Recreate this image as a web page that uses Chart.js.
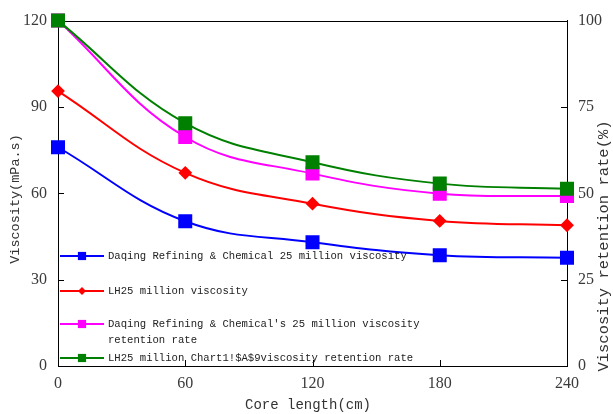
<!DOCTYPE html>
<html>
<head>
<meta charset="utf-8">
<script src="https://cdn.jsdelivr.net/npm/chart.js@4.4.0/dist/chart.umd.min.js"></script>
<style>
  html, body { margin: 0; padding: 0; background: #fff; }
</style>
</head>
<body>
<canvas id="chart" width="613" height="414"></canvas>
<script>
// data
var coreLength = [0, 60, 120, 180, 240];
var daqingVisc = [76, 50.3, 43, 38.5, 37.6];
var lhVisc = [95.5, 67.1, 56.4, 50.4, 48.9];
var daqingRetention = [100, 66.3, 55.7, 49.9, 49.2];
var lhRetention = [100, 70.3, 59, 52.8, 51.3];

var seriesNames = [
  ['Daqing Refining & Chemical 25 million viscosity'],
  ['LH25 million viscosity'],
  ["Daqing Refining & Chemical's 25 million viscosity", 'retention rate'],
  ['LH25 million Chart1!$A$9viscosity retention rate']
];
var xTitle = 'Core length(cm)';
var yTitle = 'Viscosity(mPa.s)';
var y1Title = 'Viscosity retention rate(%)';

var tickFont = { family: 'Liberation Serif', size: 16 };
var monoFont = 'Liberation Mono';

function pts(vals) {
  return vals.map(function (v, i) { return { x: coreLength[i], y: v }; });
}

function series(label, vals, color, style, radius, axis, order) {
  return {
    label: label,
    data: pts(vals),
    yAxisID: axis,
    order: order,
    borderColor: color,
    backgroundColor: color,
    borderWidth: 2,
    pointStyle: style,
    pointRadius: radius,
    pointHoverRadius: radius,
    tension: 0.4,
    clip: false
  };
}

var legendRows = [
  { y: 256, color: '#0000ff', style: 'rect', r: 5.8 },
  { y: 291, color: '#ff0000', style: 'rectRot', r: 4 },
  { y: 324, color: '#ff00ff', style: 'rect', r: 5.8 },
  { y: 358, color: '#008000', style: 'rect', r: 5.8 }
];

var framePlugin = {
  id: 'frame',
  beforeDatasetsDraw: function (chart) {
    var ctx = chart.ctx, a = chart.chartArea;
    var sx = chart.scales.x, sy = chart.scales.y, sy1 = chart.scales.y1;
    ctx.save();
    ctx.strokeStyle = '#000';
    ctx.lineWidth = 1;
    ctx.beginPath();
    ctx.moveTo(a.left, Math.round(a.top) + 0.5);
    ctx.lineTo(a.right, Math.round(a.top) + 0.5);
    // inward tick marks
    [30, 60, 90].forEach(function (v) {
      var p = Math.round(sy.getPixelForValue(v)) + 0.5;
      ctx.moveTo(a.left, p); ctx.lineTo(a.left + 6, p);
    });
    [25, 50, 75].forEach(function (v) {
      var p = Math.round(sy1.getPixelForValue(v)) + 0.5;
      ctx.moveTo(a.right, p); ctx.lineTo(a.right - 6, p);
    });
    [60, 120, 180].forEach(function (v) {
      var p = Math.round(sx.getPixelForValue(v)) + 0.5;
      ctx.moveTo(p, a.bottom); ctx.lineTo(p, a.bottom - 6);
    });
    ctx.stroke();
    ctx.restore();
  },
  afterDraw: function (chart) {
    var ctx = chart.ctx;
    ctx.save();
    // axis titles
    ctx.fillStyle = '#333';
    ctx.textAlign = 'center';
    ctx.textBaseline = 'middle';
    ctx.font = '14px ' + monoFont;
    ctx.fillText(xTitle, 308, 405);
    ctx.save();
    ctx.translate(15, 199);
    ctx.rotate(-Math.PI / 2);
    ctx.font = '13.5px ' + monoFont;
    ctx.fillText(yTitle, 0, 0);
    ctx.restore();
    ctx.save();
    ctx.translate(604, 246);
    ctx.rotate(-Math.PI / 2);
    ctx.font = '15.5px ' + monoFont;
    ctx.fillText(y1Title, 0, 0);
    ctx.restore();

    // legend
    ctx.font = '10.6px ' + monoFont;
    ctx.textAlign = 'left';
    legendRows.forEach(function (row, i) {
      ctx.strokeStyle = row.color;
      ctx.lineWidth = 2;
      ctx.beginPath();
      ctx.moveTo(60, row.y);
      ctx.lineTo(104, row.y);
      ctx.stroke();
      ctx.fillStyle = row.color;
      Chart.helpers.drawPoint(ctx, { pointStyle: row.style, radius: row.r, rotation: 0, borderWidth: 0 }, 82, row.y);
      ctx.fillStyle = '#222';
      seriesNames[i].forEach(function (t, j) {
        ctx.fillText(t, 108, row.y + j * 16);
      });
    });
    ctx.restore();
  }
};

new Chart(document.getElementById('chart'), {
  type: 'line',
  data: {
    datasets: [
      series(seriesNames[0].join(' '), daqingVisc, '#0000ff', 'rect', 8.5, 'y', 4),
      series(seriesNames[1].join(' '), lhVisc, '#ff0000', 'rectRot', 5.5, 'y', 3),
      series(seriesNames[2].join(' '), daqingRetention, '#ff00ff', 'rect', 8.5, 'y1', 2),
      series(seriesNames[3].join(' '), lhRetention, '#008000', 'rect', 8.5, 'y1', 1)
    ]
  },
  options: {
    responsive: false,
    animation: false,
    devicePixelRatio: 1,
    layout: { padding: { top: 20, left: 0, right: 0, bottom: 0 } },
    plugins: {
      legend: { display: false },
      tooltip: { enabled: false }
    },
    scales: {
      x: {
        type: 'linear',
        min: 0, max: 240,
        ticks: { stepSize: 60, font: tickFont, color: '#3a3a3a', padding: 8 },
        grid: { display: false, drawTicks: false },
        border: { display: true, color: '#000', width: 1 },
        afterFit: function (s) { s.height = 48; }
      },
      y: {
        position: 'left',
        min: 0, max: 120,
        ticks: { stepSize: 30, font: tickFont, color: '#3a3a3a', padding: 11 },
        grid: { display: false, drawTicks: false },
        border: { display: true, color: '#000', width: 1 },
        afterFit: function (s) { s.width = 58; }
      },
      y1: {
        position: 'right',
        min: 0, max: 100,
        ticks: { stepSize: 25, font: tickFont, color: '#3a3a3a', padding: 11 },
        grid: { display: false, drawTicks: false },
        border: { display: true, color: '#000', width: 1 },
        afterFit: function (s) { s.width = 46; }
      }
    }
  },
  plugins: [framePlugin]
});
</script>
</body>
</html>
